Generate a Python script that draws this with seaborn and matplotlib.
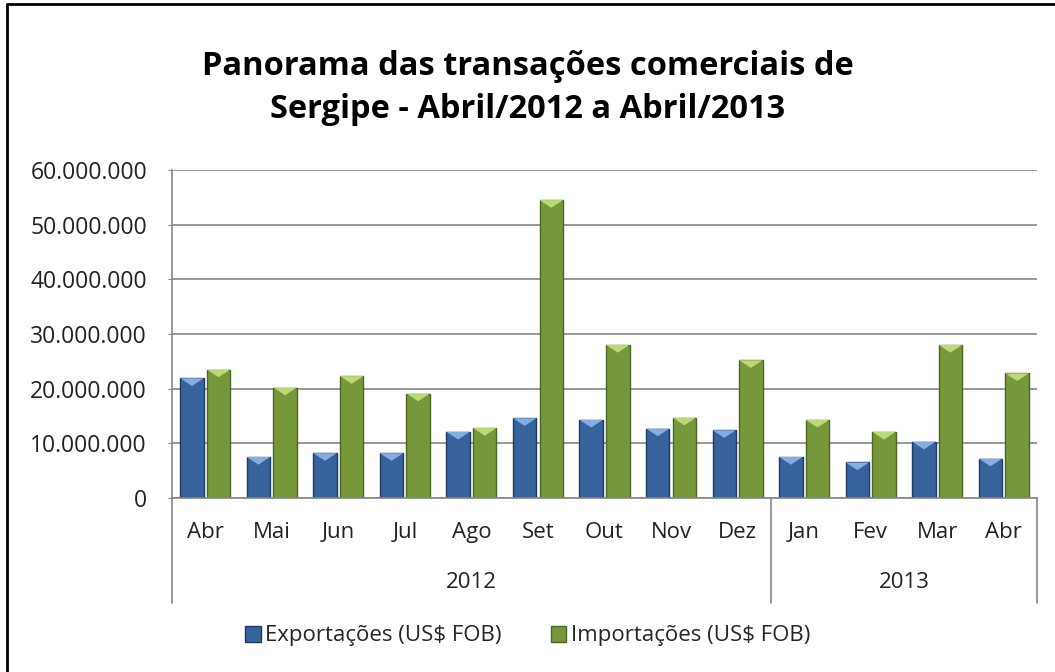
import matplotlib
matplotlib.use("Agg")
import matplotlib.pyplot as plt
from matplotlib.patches import Patch, Polygon
from matplotlib.lines import Line2D
from matplotlib.ticker import FuncFormatter
import seaborn as sns
import pandas as pd

# dados (US$ FOB)
meses = ["Abr", "Mai", "Jun", "Jul", "Ago", "Set", "Out", "Nov", "Dez", "Jan", "Fev", "Mar", "Abr"]
anos = ["2012"] * 9 + ["2013"] * 4
exportacoes = [21.9e6, 7.5e6, 8.2e6, 8.2e6, 12.1e6, 14.6e6, 14.3e6, 12.7e6, 12.4e6, 7.5e6, 6.5e6, 10.3e6, 7.2e6]
importacoes = [23.5e6, 20.2e6, 22.3e6, 19.1e6, 12.8e6, 54.5e6, 28.0e6, 14.7e6, 25.2e6, 14.3e6, 12.1e6, 28.0e6, 22.8e6]
series = ["Exportações (US$ FOB)", "Importações (US$ FOB)"]
yticks = [0, 10e6, 20e6, 30e6, 40e6, 50e6, 60e6]

cores = ["#37629c", "#77983a"]
bordas = ["#1f3b63", "#4c6623"]
brilho = ["#86addf", "#bcd978"]
cinza = "#868686"

periodos = [f"{m}/{a}" for m, a in zip(meses, anos)]
df = pd.DataFrame({
    "periodo": periodos * 2,
    "serie": [series[0]] * len(meses) + [series[1]] * len(meses),
    "valor": exportacoes + importacoes,
})

sns.set_style("white")
plt.rcParams['font.family'] = ['Open Sans', 'DejaVu Sans']

fig = plt.figure(figsize=(10.55, 6.72), dpi=100)
ax = fig.add_axes([172 / 1055, 1 - 498 / 672, (1037 - 172) / 1055, 328 / 672])

sns.barplot(data=df, x="periodo", y="valor", hue="serie", order=periodos,
            palette=cores, saturation=1, width=0.8, gap=0.12, legend=False, ax=ax)

# efeito de bisel no topo das barras
for cont, borda, luz in zip(ax.containers, bordas, brilho):
    for p in cont:
        p.set_edgecolor(borda)
        p.set_linewidth(1.0)
        x0, w, h = p.get_x(), p.get_width(), p.get_height()
        ax.add_patch(Polygon([(x0, h), (x0 + w, h), (x0 + w / 2, h - 1.4e6)],
                             closed=True, facecolor=luz, edgecolor="none", zorder=p.get_zorder() + 0.1))

ax.set_ylim(0, 60e6)
ax.set_xlim(-0.5, len(meses) - 0.5)
ax.set_yticks(yticks)
ax.yaxis.set_major_formatter(FuncFormatter(lambda v, _: f"{v:,.0f}".replace(",", ".")))
ax.set_xticks(range(len(meses)))
ax.set_xticklabels(meses)
ax.set_xlabel("")
ax.set_ylabel("")
ax.grid(axis="y", color=cinza, linewidth=1.2)
ax.set_axisbelow(True)
for s in ["top", "right"]:
    ax.spines[s].set_visible(False)
for s in ["left", "bottom"]:
    ax.spines[s].set_color(cinza)
    ax.spines[s].set_linewidth(1.2)
ax.tick_params(axis="y", length=3, color=cinza, left=True, pad=15, labelsize=16.5, labelcolor="#222222")
ax.tick_params(axis="x", length=0, pad=17, labelsize=16, labelcolor="#222222")

# eixo de dois niveis: anos
trans = ax.get_xaxis_transform()
grupos = list(dict.fromkeys(anos))
limites = [-0.5]
for g in grupos:
    idx = [i for i, a in enumerate(anos) if a == g]
    ax.text(sum(idx) / len(idx), -0.259, g, transform=trans, ha="center", va="center",
            fontsize=16, color="#222222")
    limites.append(idx[-1] + 0.5)
for xb in limites:
    ax.plot([xb, xb], [0, -0.32], transform=trans, color=cinza, linewidth=1.2, clip_on=False)

fig.text(0.5, 1 - 88 / 672, "Panorama das transações comerciais de\nSergipe - Abril/2012 a Abril/2013",
         ha="center", va="center", fontsize=23.5, fontweight="bold", linespacing=1.38, color="black")

handles = [Patch(facecolor=c, edgecolor=b) for c, b in zip(cores, bordas)]
fig.legend(handles, series, loc="center", bbox_to_anchor=(0.5, 1 - 636 / 672), ncol=2,
           frameon=False, fontsize=16, handlelength=0.7, handleheight=0.7,
           handletextpad=0.2, columnspacing=2.2)

# moldura
fig.add_artist(Line2D([7 / 1055, 7 / 1055], [0, 1 - 4 / 672], transform=fig.transFigure, color="black", linewidth=2))
fig.add_artist(Line2D([7 / 1055, 1], [1 - 4 / 672, 1 - 4 / 672], transform=fig.transFigure, color="black", linewidth=2))

fig.savefig("out.png", dpi=100)
